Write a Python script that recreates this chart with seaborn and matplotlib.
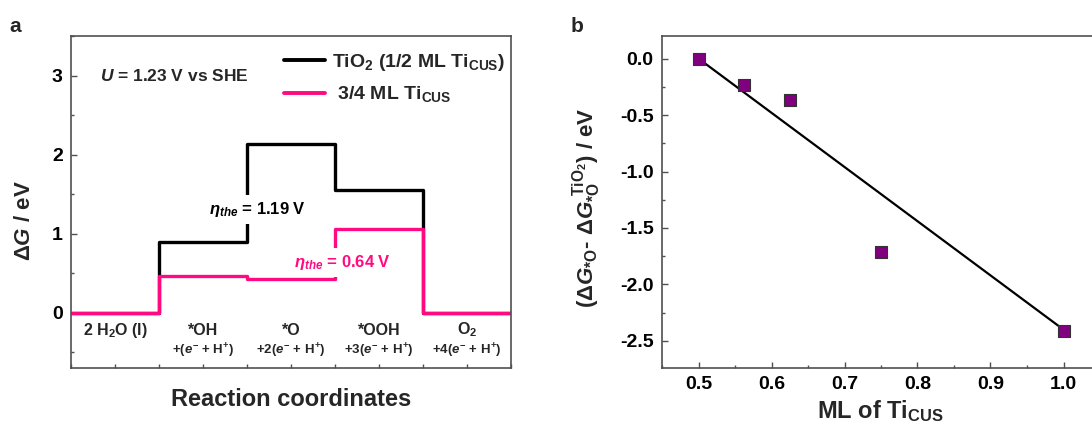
import matplotlib
matplotlib.use("Agg")
import matplotlib.pyplot as plt
import seaborn as sns
import numpy as np
import pandas as pd
from matplotlib.ticker import MultipleLocator, NullFormatter

# ---------------- data ----------------
step_names = ["2 H$_2$O (l)", "*OH", "*O", "*OOH", "O$_2$"]
step_electrons = ["",
                  "+($\\mathit{e}^{-}$ + H$^{+}$)",
                  "+2($\\mathit{e}^{-}$ + H$^{+}$)",
                  "+3($\\mathit{e}^{-}$ + H$^{+}$)",
                  "+4($\\mathit{e}^{-}$ + H$^{+}$)"]
tio2_levels = [0.0, 0.89, 2.13, 1.55, 0.0]      # TiO2 (1/2 ML Ti_CUS)
ti34_levels = [0.0, 0.47, 0.42, 1.06, 0.0]      # 3/4 ML Ti_CUS
eta_tio2 = 1.19
eta_ti34 = 0.64
potential = 1.23

ml_ti = [0.5, 0.5625, 0.625, 0.75, 1.0]
dG_O = [0.0, -0.23, -0.37, -1.71, -2.41]
fit_x = [0.5, 1.0]
fit_y = [0.0, -2.40]

# ---------------- style ----------------
sns.set_theme(style="ticks")
plt.rcParams.update({
    "font.family": ["Liberation Sans", "DejaVu Sans"],
    "font.weight": "bold",
    "axes.labelweight": "bold",
    "mathtext.fontset": "custom",
    "mathtext.rm": "Liberation Sans:bold",
    "mathtext.bf": "Liberation Sans:bold",
    "mathtext.it": "Liberation Sans:italic:bold",
    "mathtext.sf": "Liberation Sans:bold",
    "mathtext.default": "rm",
    "axes.edgecolor": "#505050",
    "axes.linewidth": 1.2,
    "xtick.color": "#505050",
    "ytick.color": "#505050",
    "xtick.labelcolor": "black",
    "ytick.labelcolor": "black",
})

BLACK = "#000000"
PINK = "#FF0A80"
PURPLE = "#800080"

fig = plt.figure(figsize=(10.92, 4.28), dpi=100)
axA = fig.add_axes([71/1092, 1-368/428, 440/1092, 332/428])
axB = fig.add_axes([662/1092, 1-368/428, 438/1092, 332/428])

# ---------------- panel a ----------------
xs = np.arange(len(tio2_levels) + 1)
df_a = pd.DataFrame({
    "x": np.concatenate([xs, xs]),
    "G": tio2_levels + [tio2_levels[-1]] + ti34_levels + [ti34_levels[-1]],
    "series": ["TiO$_2$ (1/2 ML Ti$_{\\rm CUS}$)"] * len(xs)
              + [" 3/4 ML Ti$_{\\rm CUS}$"] * len(xs),
})
sns.lineplot(data=df_a, x="x", y="G", hue="series",
             palette=[BLACK, PINK], drawstyle="steps-post",
             linewidth=2.4, ax=axA, legend=True)

axA.set_xlim(0, 5)
axA.set_ylim(-0.7, 3.5)
axA.xaxis.set_major_locator(MultipleLocator(0.5))
axA.xaxis.set_major_formatter(NullFormatter())
axA.yaxis.set_major_locator(MultipleLocator(1))
axA.yaxis.set_minor_locator(MultipleLocator(0.5))
axA.tick_params(axis="both", which="major", direction="in", length=4, width=1.0,
                labelsize=14, pad=6)
axA.tick_params(axis="x", which="major", length=3)
axA.tick_params(axis="y", which="minor", direction="in", length=2.5, width=1.0)
axA.set_xlabel("Reaction coordinates", fontsize=17, fontweight="bold")
axA.xaxis.set_label_coords(0.5, -0.06)
axA.xaxis.label.set_va("top")
axA.set_ylabel("Δ$\\mathit{G}$ / eV", fontsize=16, fontweight="bold")
axA.yaxis.set_label_coords(-0.082, 0.443)

for i, (nm, el) in enumerate(zip(step_names, step_electrons)):
    axA.text(i + 0.5, -0.22, nm, ha="center", va="center", fontsize=11.5,
             fontweight="bold")
    if el:
        axA.text(i + 0.5, -0.48, el, ha="center", va="center", fontsize=9.5,
                 fontweight="bold")

axA.text(0.33, 2.99, f"$\\mathit{{U}}$ = {potential:.2f} V vs SHE",
         ha="left", va="center", fontsize=12.5, fontweight="bold")
axA.text(2.12, 1.31, f"$\\mathit{{\\eta}}_{{\\mathit{{the}}}}$ = {eta_tio2:.2f} V",
         ha="center", va="center", fontsize=12, fontweight="bold", color=BLACK,
         bbox=dict(boxstyle="square,pad=0.3", fc="white", ec="none"), zorder=5)
axA.text(3.08, 0.63, f"$\\mathit{{\\eta}}_{{\\mathit{{the}}}}$ = {eta_ti34:.2f} V",
         ha="center", va="center", fontsize=12, fontweight="bold", color=PINK,
         bbox=dict(boxstyle="square,pad=0.3", fc="white", ec="none"), zorder=5)

leg = axA.legend(loc="upper right", bbox_to_anchor=(1.012, 0.985), frameon=False,
                 fontsize=14, handlelength=2.1, handletextpad=0.4,
                 labelspacing=0.6, borderaxespad=0.15)
for line in leg.get_lines():
    line.set_linewidth(2.8)

fig.text(15/1092, 1-26/428, "a", fontsize=15, fontweight="bold",
         ha="center", va="center")

# ---------------- panel b ----------------
sns.lineplot(x=fit_x, y=fit_y, color=BLACK, linewidth=1.6, ax=axB, zorder=2)
sns.scatterplot(x=ml_ti, y=dG_O, marker="s", s=85, color=PURPLE,
                edgecolor="#333333", linewidth=0.8, ax=axB, zorder=3)

axB.set_xlim(0.45, 1.05)
axB.set_ylim(-2.74, 0.2)
axB.xaxis.set_major_locator(MultipleLocator(0.1))
axB.xaxis.set_minor_locator(MultipleLocator(0.05))
axB.yaxis.set_major_locator(MultipleLocator(0.5))
axB.yaxis.set_minor_locator(MultipleLocator(0.25))
axB.xaxis.set_major_formatter(matplotlib.ticker.FormatStrFormatter("%.1f"))
axB.yaxis.set_major_formatter(matplotlib.ticker.FormatStrFormatter("%.1f"))
axB.tick_params(axis="both", which="major", direction="in", length=4, width=1.0,
                labelsize=14, pad=6)
axB.tick_params(axis="both", which="minor", direction="in", length=2.5, width=1.0)
axB.set_xlabel("ML of Ti$_{\\rm CUS}$", fontsize=17, fontweight="bold")
axB.xaxis.set_label_coords(0.5, -0.09)
axB.xaxis.label.set_va("top")
axB.set_ylabel("(Δ$\\mathit{G}_{*\\rm O}$- Δ$\\mathit{G}_{*\\rm O}^{\\ \\rm TiO_2}$) / eV",
               fontsize=16, fontweight="bold")
axB.yaxis.set_label_coords(-0.135, 0.483)

fig.text(577/1092, 1-26/428, "b", fontsize=15, fontweight="bold",
         ha="center", va="center")

fig.savefig("out.png", dpi=100)
